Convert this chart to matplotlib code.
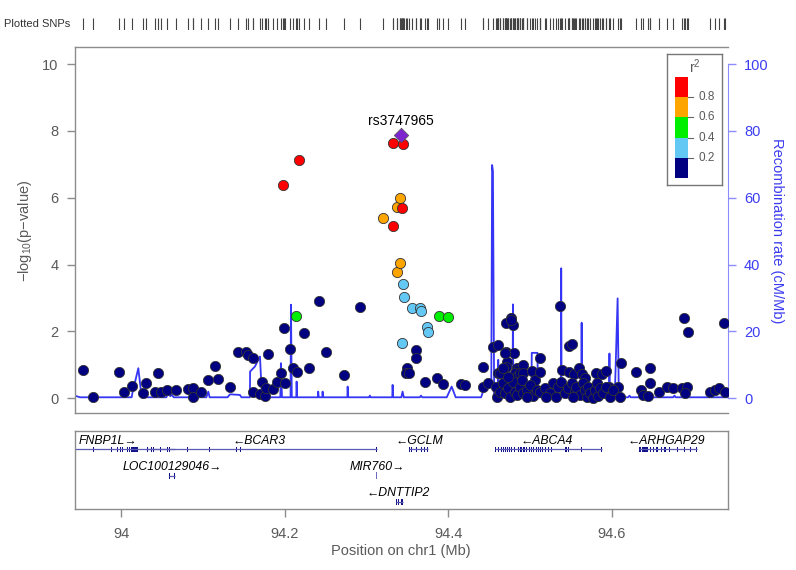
import matplotlib
matplotlib.use("Agg")
import matplotlib.pyplot as plt
from matplotlib.patches import Rectangle

plt.rcParams["font.family"] = ["Liberation Sans", "DejaVu Sans"]
plt.rcParams["mathtext.default"] = "regular"

# ---------------- data ----------------
XLIM = (93.943, 94.742)

# r2 < 0.2 (navy)
pos_navy = [93.9535, 93.965, 93.997, 94.003, 94.0127, 94.027, 94.030, 94.045, 94.041, 94.049,
            94.0555, 94.0665, 94.081, 94.088, 94.088, 94.0975, 94.106, 94.114, 94.1186, 94.1325,
            94.143, 94.1525, 94.155, 94.161, 94.161, 94.172, 94.1696, 94.176, 94.1765, 94.179,
            94.186, 94.19, 94.195, 94.2, 94.199, 94.206, 94.21, 94.2145, 94.2233, 94.229,
            94.2417, 94.25, 94.272, 94.2914,
            94.3603, 94.361, 94.349, 94.3477, 94.352, 94.372, 94.3856, 94.3936, 94.416, 94.420,
            94.4418, 94.4418, 94.4487, 94.4548, 94.4609, 94.4595, 94.4609, 94.471, 94.4764, 94.4785,
            94.4772, 94.471, 94.4797, 94.4716, 94.471, 94.4838, 94.4854, 94.4813, 94.4846, 94.4874,
            94.4915, 94.4915, 94.4874, 94.5017, 94.5058, 94.5118, 94.5118, 94.5363, 94.5384, 94.5477,
            94.5517, 94.5476, 94.554, 94.5601, 94.5630, 94.5671, 94.5805, 94.5874, 94.5926, 94.5967,
            94.6077, 94.611, 94.6293, 94.6464, 94.6464, 94.6362, 94.6382, 94.6436, 94.6578, 94.6676,
            94.6749, 94.688, 94.6932, 94.6852, 94.6913, 94.6892, 94.7205, 94.7259, 94.7311, 94.737,
            94.7389,
            94.458, 94.463, 94.467, 94.469, 94.473, 94.4752, 94.479, 94.4813, 94.4834, 94.4874,
            94.4895, 94.4914, 94.4956, 94.4996, 94.5037, 94.5078, 94.5119, 94.518, 94.524, 94.528,
            94.532, 94.534, 94.538, 94.5424, 94.5465, 94.5506, 94.5547, 94.5567, 94.5608, 94.5648,
            94.5669, 94.569, 94.5709, 94.5738, 94.577, 94.5791, 94.5812, 94.5831, 94.5852, 94.5892,
            94.5934, 94.5974, 94.6015, 94.6097, 94.5526, 94.52, 94.4956, 94.463, 94.467, 94.473,
            94.469]
logp_navy = [0.85, 0.05, 0.80, 0.20, 0.38, 0.17, 0.45, 0.75, 0.18, 0.20,
             0.25, 0.25, 0.28, 0.32, 0.05, 0.20, 0.55, 0.97, 0.58, 0.35,
             1.40, 1.38, 1.30, 1.20, 0.18, 0.48, 0.13, 0.07, 0.30, 1.33,
             0.28, 0.48, 0.75, 0.47, 2.10, 1.47, 0.90, 0.78, 1.94, 0.92,
             2.90, 1.38, 0.70, 2.74,
             1.44, 1.21, 0.92, 0.75, 0.75, 0.48, 0.62, 0.42, 0.42, 0.40,
             0.95, 0.35, 0.45, 1.53, 1.60, 0.05, 0.75, 2.24, 2.41, 2.19,
             2.34, 1.40, 1.35, 1.10, 0.95, 0.90, 0.85, 0.75, 0.70, 0.75,
             1.00, 0.77, 0.50, 0.82, 0.55, 1.20, 0.80, 2.77, 0.85, 1.56,
             1.62, 0.80, 0.72, 0.92, 0.72, 0.62, 0.77, 0.72, 0.82, 0.35,
             0.35, 1.07, 0.78, 0.90, 0.45, 0.25, 0.10, 0.07, 0.18, 0.35,
             0.30, 2.41, 1.97, 0.30, 0.35, 0.15, 0.18, 0.25, 0.32, 2.26,
             0.18,
             0.35, 0.20, 0.45, 0.15, 0.30, 0.05, 0.50, 0.20, 0.10, 0.35,
             0.55, 0.15, 0.25, 0.40, 0.07, 0.25, 0.20, 0.30, 0.15, 0.45,
             0.03, 0.35, 0.50, 0.15, 0.30, 0.45, 0.20, 0.35, 0.10, 0.45,
             0.25, 0.05, 0.35, 0.15, 0.00, 0.25, 0.45, 0.07, 0.30, 0.15,
             0.35, 0.05, 0.25, 0.05, 0.03, 0.05, 0.03, 0.75, 0.90, 0.65,
             1.35]

# 0.2 <= r2 < 0.4 (light blue)
pos_lblue = [94.3447, 94.346, 94.355, 94.365, 94.367, 94.3733, 94.3745, 94.3435]
logp_lblue = [3.41, 3.04, 2.69, 2.71, 2.62, 2.14, 1.97, 1.66]

# 0.4 <= r2 < 0.6 (green)
pos_green = [94.214, 94.3888, 94.400]
logp_green = [2.46, 2.47, 2.44]

# 0.6 <= r2 < 0.8 (orange)
pos_orange = [94.3203, 94.3367, 94.3407, 94.3367, 94.3407]
logp_orange = [5.38, 5.71, 5.98, 3.79, 4.06]

# r2 >= 0.8 (red)
pos_red = [94.1977, 94.2176, 94.3318, 94.344, 94.3432, 94.3318]
logp_red = [6.38, 7.13, 7.65, 7.60, 5.70, 5.16]

lead_name = "rs3747965"
lead_pos = 94.3419
lead_logp = 7.88

# recombination rate (cM/Mb)
recomb_pos = [93.943, 93.9495, 94.0127, 94.0135, 94.0208, 94.0249, 94.055, 94.0575, 94.0600, 94.0616,
              94.064, 94.104, 94.1064, 94.108, 94.130, 94.1329, 94.1451, 94.147, 94.1573, 94.1575,
              94.1634, 94.1696, 94.172, 94.1945, 94.1952, 94.1965, 94.2070, 94.2075, 94.2085, 94.2140,
              94.2144, 94.2150, 94.2405, 94.2408, 94.2415, 94.2458, 94.2462, 94.2468, 94.2765, 94.2768,
              94.2775, 94.303, 94.304, 94.305, 94.3314, 94.3318, 94.3325, 94.3425, 94.344, 94.3455,
              94.365, 94.3665, 94.368, 94.398, 94.404, 94.409, 94.440, 94.4446, 94.4525, 94.4535,
              94.4545, 94.4560, 94.4605, 94.461, 94.4615, 94.4785, 94.479, 94.4795, 94.5015, 94.5020,
              94.5090, 94.5095, 94.5375, 94.538, 94.5385, 94.5625, 94.563, 94.5635, 94.5965, 94.597,
              94.5975, 94.6035, 94.607, 94.6085, 94.620, 94.6215, 94.623, 94.675, 94.6765, 94.678,
              94.742]
recomb_rate = [0.8, 0.3, 0.3, 1.5, 9.0, 0.3, 0.3, 1.5, 0.6, 1.2,
               0.3, 0.3, 2.0, 0.3, 0.3, 1.2, 1.0, 0.3, 0.3, 8.0,
               9.5, 12.5, 0.3, 0.3, 10.5, 0.3, 0.3, 28.0, 0.3, 0.3,
               5.0, 0.3, 0.3, 2.0, 0.3, 0.3, 2.0, 0.3, 0.3, 3.5,
               0.3, 0.3, 0.8, 0.3, 0.3, 4.0, 0.3, 0.3, 2.0, 0.3,
               0.3, 0.8, 0.3, 0.3, 3.5, 0.3, 0.3, 3.5, 3.5, 69.8,
               68.0, 0.3, 0.3, 11.5, 0.3, 0.3, 28.1, 0.3, 0.3, 13.6,
               13.6, 0.3, 0.3, 38.9, 0.3, 0.3, 22.6, 0.3, 0.3, 13.4,
               0.3, 0.3, 29.9, 0.3, 0.3, 0.8, 0.3, 0.3, 0.8, 0.3,
               0.3]

# genes
gene_names = ["FNBP1L", "BCAR3", "GCLM", "ABCA4", "ARHGAP29", "LOC100129046", "MIR760", "DNTTIP2"]
gene_start = [93.913, 94.030, 94.352, 94.4567, 94.6327, 94.0583, 94.3120, 94.3355]
gene_end = [94.066, 94.3123, 94.375, 94.5875, 94.7036, 94.0660, 94.3126, 94.3440]
gene_strand = ["+", "-", "-", "-", "-", "+", "+", "-"]
gene_row = [0, 0, 0, 0, 0, 1, 1, 2]
gene_label_x = [93.983, 94.169, 94.364, 94.520, 94.667, 94.0627, 94.313, 94.339]
gene_exons = {
    "FNBP1L": [(93.9655, 93.9665), (93.9875, 93.9890), (93.9905, 93.9915), (93.9945, 93.9960),
               (93.9985, 93.9995), (94.0010, 94.0025), (94.0065, 94.0078), (94.0095, 94.0105),
               (94.0120, 94.0210), (94.0285, 94.0295), (94.0320, 94.0332), (94.0368, 94.0378),
               (94.0393, 94.0403), (94.0478, 94.0490), (94.0518, 94.0528), (94.0556, 94.0566),
               (94.0585, 94.0595)],
    "BCAR3": [(94.0802, 94.0812), (94.1075, 94.1083), (94.1400, 94.1412), (94.1455, 94.1467),
              (94.1729, 94.1737), (94.3119, 94.3127)],
    "GCLM": [(94.352, 94.3535), (94.3545, 94.356), (94.360, 94.3615), (94.366, 94.3672),
             (94.370, 94.371), (94.374, 94.375)],
    "ABCA4": [(94.4567, 94.4577), (94.4590, 94.4600), (94.4612, 94.4622), (94.4640, 94.4650),
              (94.4665, 94.4675), (94.4690, 94.4700), (94.4718, 94.4728), (94.4745, 94.4755),
              (94.4770, 94.4780), (94.4800, 94.4810), (94.4822, 94.4832), (94.4850, 94.4860),
              (94.4875, 94.4900), (94.4910, 94.4935), (94.4945, 94.4965), (94.4985, 94.4995),
              (94.5010, 94.5020), (94.5040, 94.5050), (94.5068, 94.5078), (94.5095, 94.5105),
              (94.5125, 94.5135), (94.5150, 94.5160), (94.5185, 94.5195), (94.5220, 94.5230),
              (94.5260, 94.5270), (94.5300, 94.5308), (94.5430, 94.5445), (94.5462, 94.5470),
              (94.5628, 94.5634), (94.5682, 94.5688), (94.5764, 94.5770), (94.5791, 94.5797),
              (94.5871, 94.5877)],
    "ARHGAP29": [(94.6327, 94.6360), (94.6370, 94.6400), (94.6410, 94.6440), (94.6460, 94.6480),
                 (94.6500, 94.6520), (94.6545, 94.6560), (94.6600, 94.6615), (94.6640, 94.6660),
                 (94.6700, 94.6712), (94.6800, 94.6812), (94.6880, 94.6892), (94.6960, 94.6970),
                 (94.7030, 94.7040)],
    "LOC100129046": [(94.0583, 94.0598), (94.0640, 94.0660)],
    "MIR760": [(94.3120, 94.3126)],
    "DNTTIP2": [(94.3355, 94.3375), (94.3385, 94.3400), (94.3415, 94.3440)],
}

x_ticks = [94, 94.2, 94.4, 94.6]
x_ticklabels = ["94", "94.2", "94.4", "94.6"]
y_ticks = [0, 2, 4, 6, 8, 10]
recomb_ticks = [0, 20, 40, 60, 80, 100]

ld_bounds = [0.0, 0.2, 0.4, 0.6, 0.8, 1.0]
ld_colors = ["#000080", "#64C8F5", "#00EE00", "#FFA500", "#FF0000"]
ld_tick_labels = ["0.2", "0.4", "0.6", "0.8"]
lead_color = "#7D26CD"

# ---------------- layout ----------------
W, H = 796, 570
fig = plt.figure(figsize=(W / 100, H / 100), dpi=100)


def fx(px):
    return px / W


def fy(py):
    return 1 - py / H


AX_L, AX_R = 74.7, 728.0
MAIN_T, MAIN_B = 46.7, 413.3
GENE_T, GENE_B = 431.0, 509.3
RUG_T, RUG_B = 18.3, 29.8

gray = "#5a5a5a"
frame = "#8c8c8c"
blue_txt = "#3c3cf0"
blue_axis = "#8c8cff"

# --- rug ---
ax_rug = fig.add_axes([fx(AX_L), fy(RUG_B), fx(AX_R - AX_L), (RUG_B - RUG_T) / H])
all_pos = pos_navy + pos_lblue + pos_green + pos_orange + pos_red + [lead_pos]
ax_rug.vlines(all_pos, 0, 1, color="#444444", lw=0.8)
ax_rug.set_xlim(*XLIM)
ax_rug.set_ylim(0, 1)
ax_rug.axis("off")
fig.text(fx(70.7), fy(24), "Plotted SNPs", ha="right", va="center", fontsize=8, color="#333333")

# --- main ---
ax = fig.add_axes([fx(AX_L), fy(MAIN_B), fx(AX_R - AX_L), (MAIN_B - MAIN_T) / H])
ax2 = ax.twinx()
ax.set_zorder(ax2.get_zorder() + 1)
ax.patch.set_visible(False)

ax2.plot(recomb_pos, recomb_rate, color="#3535f5", lw=1.3)
ax2.set_ylim(-4.49, 105.2)
ax2.set_yticks(recomb_ticks)
ax2.tick_params(axis="y", colors=blue_axis, labelcolor=blue_txt, length=6, width=1.0,
                pad=5.5, labelsize=10.5)
for s in ["top", "left", "bottom"]:
    ax2.spines[s].set_visible(False)
ax2.spines["right"].set_color(blue_axis)
ax2.spines["right"].set_bounds(0, 100)

scat_kw = dict(s=54, edgecolors="#333333", linewidths=0.6, zorder=3)
ax.scatter(pos_navy, logp_navy, c=ld_colors[0], **scat_kw)
ax.scatter(pos_lblue, logp_lblue, c=ld_colors[1], **scat_kw)
ax.scatter(pos_green, logp_green, c=ld_colors[2], **scat_kw)
ax.scatter(pos_orange, logp_orange, c=ld_colors[3], **scat_kw)
ax.scatter(pos_red, logp_red, c=ld_colors[4], **scat_kw)
ax.scatter([lead_pos], [lead_logp], marker="D", s=55, c=lead_color, edgecolors="#555555",
           linewidths=0.5, zorder=4)
ax.text(lead_pos, lead_logp + 0.2, lead_name, ha="center", va="bottom", fontsize=10, color="black")

ax.set_xlim(*XLIM)
ax.set_ylim(-0.449, 10.52)
ax.set_yticks(y_ticks)
ax.set_xticks([])
ax.tick_params(axis="y", colors=frame, labelcolor=gray, length=6, width=1.0, pad=5.5, labelsize=10.5)
for s in ["top", "left", "bottom"]:
    ax.spines[s].set_color(frame)
    ax.spines[s].set_linewidth(1.0)
ax.spines["right"].set_visible(False)
ax2.set_xlim(*XLIM)

fig.text(fx(25), fy(230.5), "\u2212log$_{10}$(p\u2212value)", rotation=90, ha="center", va="center",
         fontsize=10.5, color=gray)
fig.text(fx(777), fy(230.5), "Recombination rate (cM/Mb)", rotation=270, ha="center", va="center",
         fontsize=10.5, color=blue_txt)

# --- legend ---
LG_L, LG_R, LG_T, LG_B = 667.3, 722.3, 54.0, 185.0
axl = fig.add_axes([fx(LG_L), fy(LG_B), fx(LG_R - LG_L), (LG_B - LG_T) / H])
axl.set_xlim(0, 1)
axl.set_ylim(0, 1)
axl.set_xticks([])
axl.set_yticks([])
for s in axl.spines.values():
    s.set_color("#777777")
    s.set_linewidth(1.0)
bar_x0, bar_x1 = 0.14, 0.371
bar_y0, bar_y1 = 0.051, 0.827
for i, col in enumerate(ld_colors):
    y0 = bar_y0 + ld_bounds[i] * (bar_y1 - bar_y0)
    y1 = bar_y0 + ld_bounds[i + 1] * (bar_y1 - bar_y0)
    axl.add_patch(Rectangle((bar_x0, y0), bar_x1 - bar_x0, y1 - y0, facecolor=col, edgecolor="none"))
for b, lab in zip(ld_bounds[1:5], ld_tick_labels):
    yy = bar_y0 + b * (bar_y1 - bar_y0)
    axl.plot([bar_x1, 0.46], [yy, yy], color="#666666", lw=0.8)
    axl.text(0.56, yy, lab, ha="left", va="center", fontsize=8.5, color=gray)
axl.text(0.50, 0.905, "r$^2$", ha="center", va="center", fontsize=10, color=gray)

# --- genes ---
axg = fig.add_axes([fx(AX_L), fy(GENE_B), fx(AX_R - AX_L), (GENE_B - GENE_T) / H])
axg.set_xlim(*XLIM)
axg.set_ylim(0, 1)
row_line = [0.764, 0.428, 0.098]
row_label = [0.872, 0.542, 0.214]
exon_h = 0.075
for name, st, en, strand, row, lx in zip(gene_names, gene_start, gene_end, gene_strand, gene_row,
                                         gene_label_x):
    yl = row_line[row]
    if en - st > 0.002:
        axg.plot([st, en], [yl, yl], color="#5a5ab4", lw=0.9, solid_capstyle="butt")
    for (es, ee) in gene_exons[name]:
        if name == "MIR760":
            axg.add_patch(Rectangle((es, yl - 0.045), ee - es, 0.09, facecolor="#6a6ac0", edgecolor="none"))
        else:
            axg.add_patch(Rectangle((es, yl - exon_h / 2), ee - es, exon_h, facecolor="#101088",
                                    edgecolor="none"))
    label = name + "\u2192" if strand == "+" else "\u2190" + name
    xlab = lx
    ha = "center"
    if name == "FNBP1L":
        xlab = XLIM[0] + 0.005
        ha = "left"
    axg.text(xlab, row_label[row], label, ha=ha, va="center", fontsize=8.8, style="italic",
             color="black")

axg.set_yticks([])
axg.set_xticks(x_ticks)
axg.set_xticklabels(x_ticklabels)
axg.tick_params(axis="x", colors=frame, labelcolor=gray, length=6, width=1.0, pad=7, labelsize=10.5)
for s in axg.spines.values():
    s.set_color(frame)
    s.set_linewidth(1.0)

fig.text(fx(401.3), fy(551), "Position on chr1 (Mb)", ha="center", va="center", fontsize=10.5,
         color=gray)

fig.savefig("out.png", dpi=100)
